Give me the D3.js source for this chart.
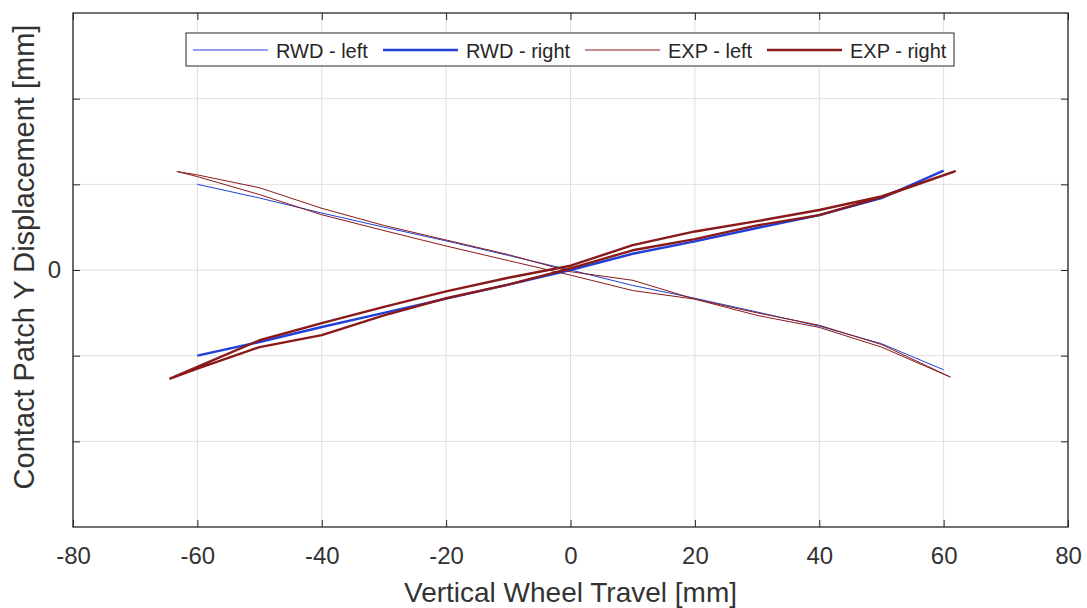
<!DOCTYPE html>
<html>
<head>
<meta charset="utf-8">
<script src="https://cdn.jsdelivr.net/npm/d3@7"></script>
<style>
  html, body { margin: 0; padding: 0; background: #fff; }
  svg { display: block; font-family: "Liberation Sans", Arial, Helvetica, sans-serif; }
</style>
</head>
<body>
<svg id="chart" width="1087" height="608"></svg>
<script>
// ---- data ----
const xTicks = [-80, -60, -40, -20, 0, 20, 40, 60, 80];
const xTickLabels = ["-80", "-60", "-40", "-20", "0", "20", "40", "60", "80"];
const yTicks = [-2, -1, 0, 1, 2];
const yTickLabels = ["", "", "0", "", ""];

const rwdX = [-60, -50, -40, -30, -20, -10, 0, 10, 20, 30, 40, 50, 60];
const rwdLeft  = [1.00, 0.84, 0.665, 0.50, 0.34, 0.17, 0.00, -0.18, -0.33, -0.49, -0.655, -0.86, -1.165];
const rwdRight = [-1.00, -0.84, -0.665, -0.50, -0.335, -0.17, 0.00, 0.19, 0.335, 0.49, 0.64, 0.84, 1.16];

// EXP curves are loops (out branch + return branch)
const expLeftX = [-63.3, -60, -50, -40, -30, -20, -10, 0, 10, 20, 30, 40, 50, 61.1,
                  50, 40, 30, 20, 10, 0, -10, -20, -30, -40, -50, -60, -63.3];
const expLeftY = [1.15, 1.11, 0.96, 0.72, 0.52, 0.35, 0.18, -0.02, -0.12, -0.34, -0.50, -0.645, -0.87, -1.25,
                  -0.90, -0.67, -0.53, -0.34, -0.24, -0.06, 0.11, 0.28, 0.46, 0.645, 0.88, 1.09, 1.15];
const expRightX = [-64.5, -60, -50, -40, -30, -20, -10, 0, 10, 20, 30, 40, 50, 61.8,
                   50, 40, 30, 20, 10, 0, -10, -20, -30, -40, -50, -60, -64.5];
const expRightY = [-1.27, -1.13, -0.82, -0.62, -0.43, -0.25, -0.09, 0.05, 0.29, 0.45, 0.57, 0.70, 0.86, 1.15,
                   0.85, 0.64, 0.52, 0.36, 0.23, 0.02, -0.17, -0.33, -0.53, -0.76, -0.90, -1.15, -1.27];

const seriesNames = ["RWD - left", "RWD - right", "EXP - left", "EXP - right"];

// ---- layout ----
const svg = d3.select("#chart");
const L = 73, R = 1068, T = 13, B = 527;
const x = d3.scaleLinear().domain([-80, 80]).range([L, R]);
const y = d3.scaleLinear().domain([-3, 3]).range([B, T]);

const axisColor = "#262626";
const blue = "#2040d6";
const red = "#8a1a1a";

// grid
const g = svg.append("g");
g.selectAll(".gx").data(xTicks).enter().append("line")
  .attr("x1", d => x(d)).attr("x2", d => x(d)).attr("y1", T).attr("y2", B)
  .attr("stroke", "#dfdfdf").attr("stroke-width", 1);
g.selectAll(".gy").data(yTicks).enter().append("line")
  .attr("x1", L).attr("x2", R).attr("y1", d => y(d)).attr("y2", d => y(d))
  .attr("stroke", "#dfdfdf").attr("stroke-width", 1);

// data lines
const pts = (xs, ys) => xs.map((v, i) => [v, ys[i]]);
const line = d3.line().x(d => x(d[0])).y(d => y(d[1]));
const series = [
  {name: seriesNames[0], data: pts(rwdX, rwdLeft), color: blue, w: 1},
  {name: seriesNames[1], data: pts(rwdX, rwdRight), color: blue, w: 2.4},
  {name: seriesNames[2], data: pts(expLeftX, expLeftY), color: red, w: 1},
  {name: seriesNames[3], data: pts(expRightX, expRightY), color: red, w: 2.4}
];
svg.append("g").selectAll("path").data(series).enter().append("path")
  .attr("d", d => line(d.data))
  .attr("fill", "none")
  .attr("stroke", d => d.color)
  .attr("stroke-width", d => d.w)
  .attr("stroke-linejoin", "round");

// axes (MATLAB style box, inward ticks)
const tickLen = 7;
const ax = svg.append("g");
const xb = ax.append("g").attr("transform", `translate(0,${B})`)
  .call(d3.axisBottom(x).tickValues(xTicks).tickSizeInner(-tickLen).tickSizeOuter(0).tickPadding(20)
    .tickFormat((d, i) => xTickLabels[i]));
const xt = ax.append("g").attr("transform", `translate(0,${T})`)
  .call(d3.axisTop(x).tickValues(xTicks).tickSizeInner(-tickLen).tickSizeOuter(0).tickFormat(""));
const yl = ax.append("g").attr("transform", `translate(${L},0)`)
  .call(d3.axisLeft(y).tickValues(yTicks).tickSizeInner(-tickLen).tickSizeOuter(0).tickPadding(12)
    .tickFormat((d, i) => yTickLabels[i]));
const yr = ax.append("g").attr("transform", `translate(${R},0)`)
  .call(d3.axisRight(y).tickValues(yTicks).tickSizeInner(-tickLen).tickSizeOuter(0).tickFormat(""));
[xb, xt, yl, yr].forEach(a => {
  a.select(".domain").remove();
  a.selectAll("line").attr("stroke", axisColor).attr("stroke-width", 1);
  a.selectAll("text").attr("fill", "#333").style("font-size", "24px")
    .style("font-family", "'Liberation Sans', Arial, sans-serif");
});
ax.append("rect").attr("x", L).attr("y", T).attr("width", R - L).attr("height", B - T)
  .attr("fill", "none").attr("stroke", axisColor).attr("stroke-width", 1.3);

// axis labels
svg.append("text").attr("x", (L + R) / 2).attr("y", 602).attr("text-anchor", "middle")
  .style("font-size", "28px").attr("fill", "#333").text("Vertical Wheel Travel [mm]");
svg.append("text").attr("transform", `translate(34,257) rotate(-90)`)
  .attr("text-anchor", "middle").style("font-size", "29px").attr("fill", "#333")
  .text("Contact Patch Y Displacement [mm]");

// legend
const lg = svg.append("g");
lg.append("rect").attr("x", 186).attr("y", 33).attr("width", 768).attr("height", 33)
  .attr("fill", "#fff").attr("stroke", axisColor).attr("stroke-width", 1);
const legX = [193, 383, 585, 767];
series.forEach((s, i) => {
  lg.append("line").attr("x1", legX[i]).attr("x2", legX[i] + 75).attr("y1", 50).attr("y2", 50)
    .attr("stroke", s.color).attr("stroke-width", s.w);
  lg.append("text").attr("x", legX[i] + 83).attr("y", 58)
    .style("font-size", "20px").attr("fill", "#262626").text(s.name);
});
</script>
</body>
</html>
